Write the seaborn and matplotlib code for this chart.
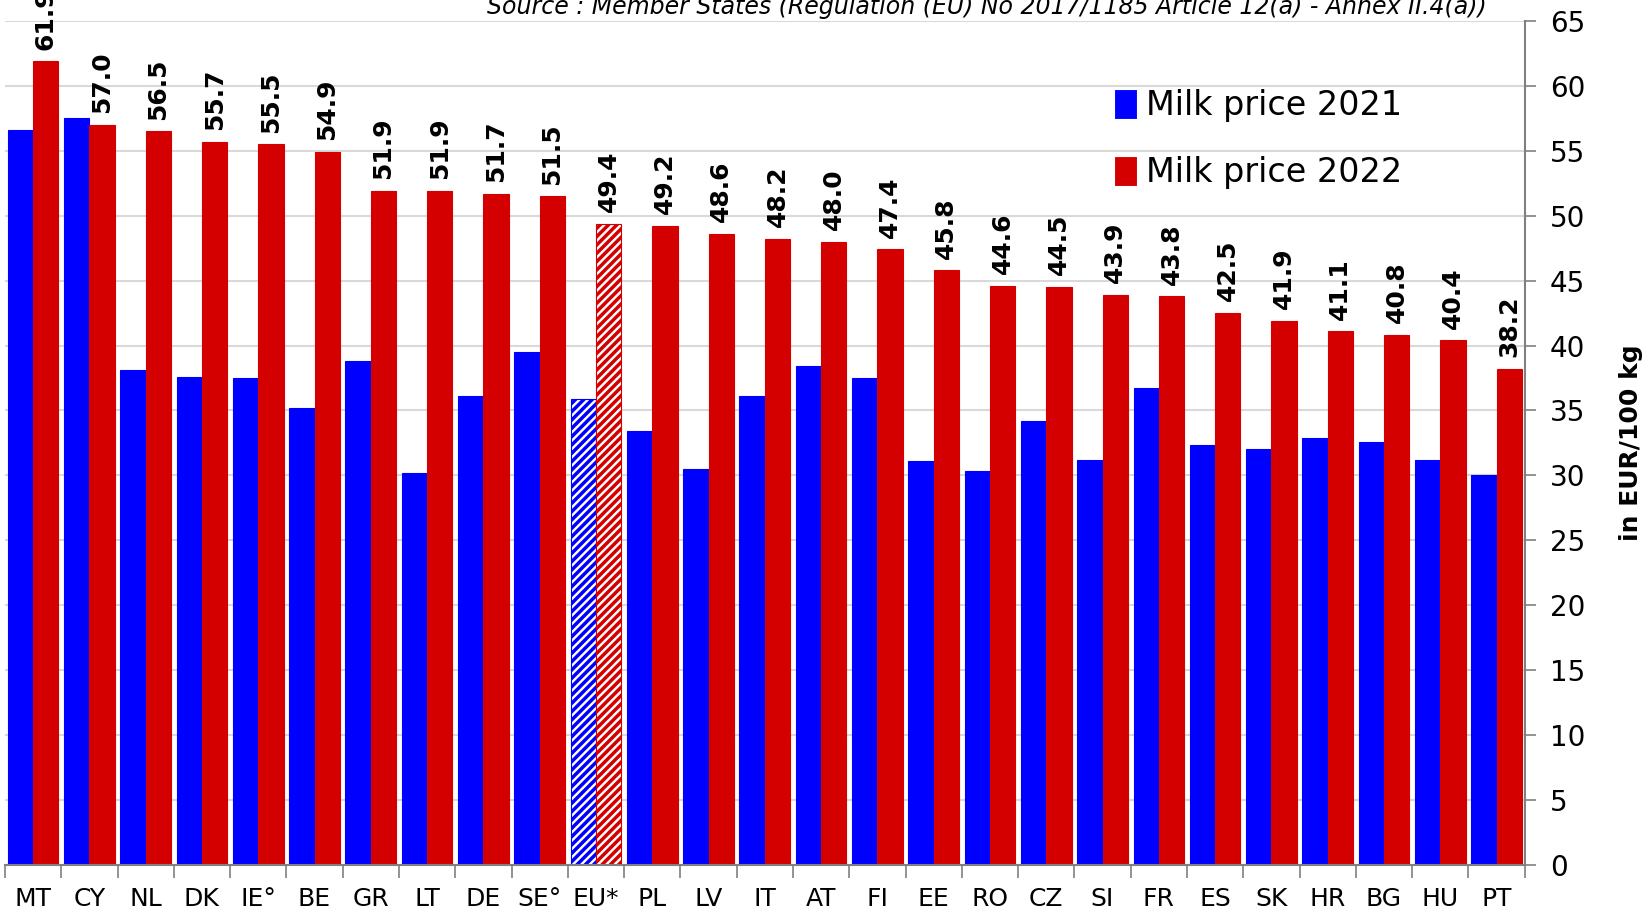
import numpy as np
import pandas as pd
import matplotlib.pyplot as plt
import seaborn as sns

countries = ["MT", "CY", "NL", "DK", "IE°", "BE", "GR", "LT", "DE", "SE°", "EU*",
             "PL", "LV", "IT", "AT", "FI", "EE", "RO", "CZ", "SI", "FR", "ES",
             "SK", "HR", "BG", "HU", "PT"]
price_2021 = [56.6, 57.5, 38.1, 37.6, 37.5, 35.2, 38.8, 30.2, 36.1, 39.5, 35.9,
              33.4, 30.5, 36.1, 38.4, 37.5, 31.1, 30.3, 34.2, 31.2, 36.7, 32.3,
              32.0, 32.9, 32.6, 31.2, 30.0]
price_2022 = [61.9, 57.0, 56.5, 55.7, 55.5, 54.9, 51.9, 51.9, 51.7, 51.5, 49.4,
              49.2, 48.6, 48.2, 48.0, 47.4, 45.8, 44.6, 44.5, 43.9, 43.8, 42.5,
              41.9, 41.1, 40.8, 40.4, 38.2]
series = ["Milk price 2021", "Milk price 2022"]
colors = ["#0000ff", "#d40000"]

n = len(countries)
df = pd.DataFrame({
    "country": countries * 2,
    "price": price_2021 + price_2022,
    "year": [series[0]] * n + [series[1]] * n,
})

sns.set_theme(style="white")
plt.rcParams["font.family"] = ["DejaVu Sans"]
plt.rcParams["hatch.linewidth"] = 2.5
for k in ["text.color", "axes.labelcolor", "xtick.labelcolor", "ytick.labelcolor"]:
    plt.rcParams[k] = "black"

fig = plt.figure(figsize=(16.43, 9.16), dpi=100)
ax = fig.add_axes([0.003, 0.056, 0.925, 0.921])

sns.barplot(data=df, x="country", y="price", hue="year", palette=colors,
            width=0.9, gap=0, saturation=1, linewidth=0.8, ax=ax)

# EU average drawn hatched
eu = countries.index("EU*")
for cont, col in zip(ax.containers, colors):
    for bar in cont:
        bar.set_edgecolor(col)
    b = cont[eu]
    b.set_facecolor("white")
    b.set_edgecolor(col)
    b.set_hatch("////")

# value labels above the 2022 bars
for bar, v in zip(ax.containers[1], price_2022):
    ax.text(bar.get_x() + bar.get_width() / 2, bar.get_height() + 0.9,
            f"{v:.1f}", rotation=90, ha="center", va="bottom",
            fontsize=18, fontweight="bold", clip_on=False)

ax.set_xlim(-0.5, n - 0.5)
ax.set_ylim(0, 65)
ax.yaxis.tick_right()
ax.yaxis.set_label_position("right")
ax.set_yticks(range(0, 66, 5))
ax.tick_params(axis="y", labelsize=20, length=8, width=1.2, color="#808080",
               direction="out", pad=10, right=True)
ax.set_ylabel("in EUR/100 kg", fontsize=18, fontweight="bold", labelpad=24)
ax.set_xlabel("")

ax.set_xticks(range(n))
ax.set_xticklabels(countries, fontsize=18)
ax.tick_params(axis="x", which="major", length=0, pad=16)
ax.set_xticks(np.arange(-0.5, n, 1), minor=True)
ax.tick_params(axis="x", which="minor", length=9, width=1.2, color="#808080",
               bottom=True)

ax.grid(axis="y", color="#d9d9d9", lw=1.5)
ax.set_axisbelow(True)
for s in ["left", "top"]:
    ax.spines[s].set_visible(False)
for s in ["right", "bottom"]:
    ax.spines[s].set_color("#808080")
    ax.spines[s].set_linewidth(1.5)

handles, labels = ax.get_legend_handles_labels()
ax.legend(handles, labels, loc="upper left", bbox_to_anchor=(0.71, 0.955),
          frameon=False, fontsize=24, handlelength=0.7, handleheight=1.0,
          handletextpad=0.25, labelspacing=1.0)

fig.text(0.905, 0.985,
         "Source : Member States (Regulation (EU) No 2017/1185 Article 12(a) - Annex II.4(a))",
         ha="right", va="baseline", fontsize=17, style="italic")

fig.savefig("out.png", dpi=100)
